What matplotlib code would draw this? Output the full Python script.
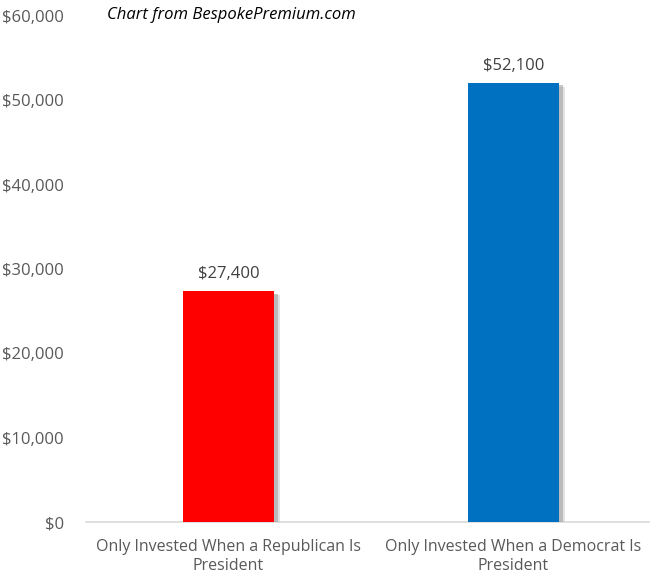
import matplotlib.pyplot as plt
import matplotlib.patheffects as pe

categories = ['Only Invested When a Republican Is\nPresident',
              'Only Invested When a Democrat Is\nPresident']
values = [27400, 52100]
colors = ['#FF0000', '#0070C0']
yticks = [0, 10000, 20000, 30000, 40000, 50000, 60000]

plt.rcParams['font.family'] = ['Open Sans', 'DejaVu Sans']

fig = plt.figure(figsize=(6.5, 5.77), dpi=100)
ax = fig.add_axes([86/650, 55/577, 570/650, 506/577])

x = list(range(len(values)))
bars = ax.bar(x, values, width=0.316, color=colors, zorder=3)
for b in bars:
    b.set_path_effects([pe.SimplePatchShadow(offset=(5, -3), shadow_rgbFace='#C8C8C8', alpha=0.5),
                        pe.SimplePatchShadow(offset=(3, -2), shadow_rgbFace='#A0A0A0', alpha=0.6),
                        pe.Normal()])

for xi, v in zip(x, values):
    ax.text(xi, v + 1000, '${:,}'.format(v), ha='center', va='bottom',
            fontsize=12, color='#404040')

ax.set_xlim(-0.5, 1.5)
ax.set_ylim(0, 60000)
ax.set_yticks(yticks)
ax.set_yticklabels(['${:,}'.format(t) for t in yticks])
ax.set_xticks(x)
ax.set_xticklabels(categories, linespacing=1.3)
ax.tick_params(axis='both', length=0, labelcolor='#595959')
ax.tick_params(axis='y', pad=16, labelsize=12)
ax.tick_params(axis='x', pad=12, labelsize=11.5)

for s in ['top', 'right', 'left']:
    ax.spines[s].set_visible(False)
ax.spines['bottom'].set_color('#D9D9D9')
ax.spines['bottom'].set_linewidth(1.2)

fig.text(107/650, 1 - 15/577, 'Chart from BespokePremium.com', style='italic',
         fontsize=12, color='black', va='center', ha='left')

fig.savefig('out.png', dpi=100)
